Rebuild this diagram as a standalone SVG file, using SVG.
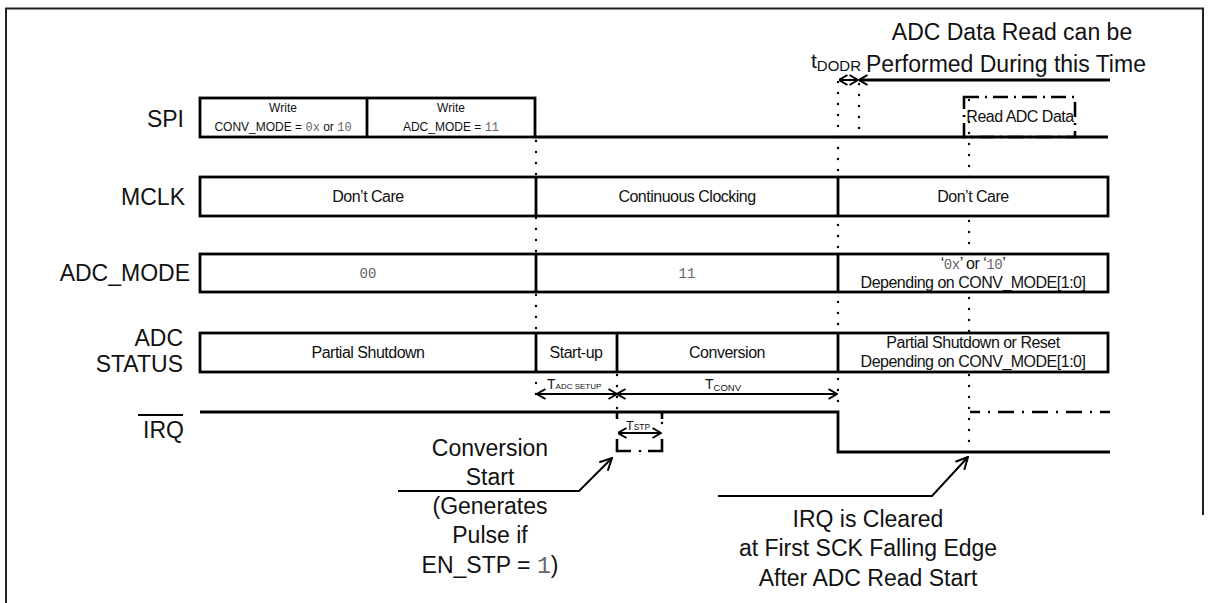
<svg xmlns="http://www.w3.org/2000/svg" width="1208" height="603" viewBox="0 0 1208 603">
<defs>
<style>
.lbl{font-family:"Liberation Sans",Arial,sans-serif;font-size:23px;fill:#111}
.ann{font-family:"Liberation Sans",Arial,sans-serif;font-size:23px;fill:#111;text-anchor:middle}
.cell{font-family:"Liberation Sans",Arial,sans-serif;font-size:16px;letter-spacing:-0.5px;fill:#111;text-anchor:middle}
.sm{font-family:"Liberation Sans",Arial,sans-serif;font-size:12px;fill:#111;text-anchor:middle}
.mono{font-family:"Liberation Mono","Courier New",monospace;fill:#666}
.box{fill:#fff;stroke:#000;stroke-width:2.8}
.ln{fill:none;stroke:#000;stroke-width:2.8}
.dot{fill:none;stroke:#000;stroke-width:2.4;stroke-linecap:round;stroke-dasharray:0 11}
.arr{fill:none;stroke:#000;stroke-width:2;marker-start:url(#ah);marker-end:url(#ah)}
.tsub{font-family:"Liberation Sans",Arial,sans-serif;fill:#111}
</style>
<marker id="ah" viewBox="0 0 10 12" refX="9.5" refY="6" markerWidth="10" markerHeight="12" markerUnits="userSpaceOnUse" orient="auto-start-reverse"><path d="M1,1 L9.5,6 L1,11" fill="none" stroke="#000" stroke-width="2"/></marker>
<marker id="ah2" viewBox="0 0 14 14" refX="13" refY="7" markerWidth="14" markerHeight="14" markerUnits="userSpaceOnUse" orient="auto"><path d="M1,1 L13,7 L1,13" fill="none" stroke="#000" stroke-width="2"/></marker>
</defs>
<rect width="1208" height="603" fill="#fff"/>
<path d="M6,603 V8.5 H1203 V515" fill="none" stroke="#222" stroke-width="2"/>

<g id="labels">
<text class="lbl" x="184" y="127" text-anchor="end">SPI</text>
<text class="lbl" x="185" y="205" text-anchor="end">MCLK</text>
<text class="lbl" x="190" y="281" text-anchor="end">ADC_MODE</text>
<text class="lbl" x="183" y="346" text-anchor="end">ADC</text>
<text class="lbl" x="183" y="372" text-anchor="end">STATUS</text>
<text class="lbl" x="184" y="438" text-anchor="end">IRQ</text>
<line x1="138" y1="415" x2="183" y2="415" stroke="#000" stroke-width="2"/>
</g>

<g id="connectors">
<line class="dot" x1="536" y1="141" x2="536" y2="402"/>
<line class="dot" x1="617" y1="375" x2="617" y2="412"/>
<line class="dot" x1="838" y1="82" x2="838" y2="412"/>
<line class="dot" x1="859" y1="84" x2="859" y2="132"/>
<line class="dot" x1="969" y1="100" x2="969" y2="452"/>
<line class="dot" x1="662" y1="412" x2="662" y2="424"/>
</g>

<g id="spi">
<rect class="box" x="200" y="98" width="335" height="39"/>
<line class="ln" x1="367" y1="98" x2="367" y2="137"/>
<line class="ln" x1="535" y1="137" x2="1108" y2="137"/>
<text class="sm" x="283" y="112">Write</text>
<text class="sm" x="283" y="131">CONV_MODE = <tspan class="mono" font-size="12">0x</tspan> or <tspan class="mono" font-size="12">10</tspan></text>
<text class="sm" x="451" y="112">Write</text>
<text class="sm" x="451" y="131">ADC_MODE = <tspan class="mono" font-size="12">11</tspan></text>
</g>

<g id="read-adc">
<rect x="964" y="97" width="111" height="40" fill="none" stroke="#000" stroke-width="2.6" stroke-dasharray="15 6 2 6"/>
<text class="cell" x="1020" y="122" font-size="14.5">Read ADC Data</text>
</g>

<g id="mclk">
<rect class="box" x="200" y="177" width="908" height="39"/>
<line class="ln" x1="536" y1="177" x2="536" y2="216"/>
<line class="ln" x1="838" y1="177" x2="838" y2="216"/>
<text class="cell" x="368" y="202">Don’t Care</text>
<text class="cell" x="687" y="202">Continuous Clocking</text>
<text class="cell" x="973" y="202">Don’t Care</text>
</g>

<g id="adc-mode">
<rect class="box" x="200" y="254" width="908" height="38"/>
<line class="ln" x1="536" y1="254" x2="536" y2="292"/>
<line class="ln" x1="838" y1="254" x2="838" y2="292"/>
<text class="mono" x="368" y="278" font-size="14" text-anchor="middle">00</text>
<text class="mono" x="687" y="278" font-size="14" text-anchor="middle">11</text>
<text class="cell" x="973" y="269">‘<tspan class="mono" font-size="14">0x</tspan>’ or ‘<tspan class="mono" font-size="14">10</tspan>’</text>
<text class="cell" x="973" y="288">Depending on CONV_MODE[1:0]</text>
</g>

<g id="adc-status">
<rect class="box" x="200" y="333" width="908" height="39"/>
<line class="ln" x1="536" y1="333" x2="536" y2="372"/>
<line class="ln" x1="617" y1="333" x2="617" y2="372"/>
<line class="ln" x1="838" y1="333" x2="838" y2="372"/>
<text class="cell" x="368" y="358">Partial Shutdown</text>
<text class="cell" x="576" y="358">Start-up</text>
<text class="cell" x="727" y="358">Conversion</text>
<text class="cell" x="973" y="348">Partial Shutdown or Reset</text>
<text class="cell" x="973" y="367">Depending on CONV_MODE[1:0]</text>
</g>

<g id="timing">
<line class="arr" x1="537" y1="394" x2="617" y2="394"/>
<line class="arr" x1="617" y1="394" x2="837" y2="394"/>
<text class="tsub" x="547" y="389" font-size="14">T<tspan font-size="8">ADC SETUP</tspan></text>
<text class="tsub" x="705" y="389" font-size="14">T<tspan font-size="9.5" dy="2">CONV</tspan></text>
<line class="arr" x1="618" y1="433" x2="661" y2="433"/>
<text class="tsub" x="626" y="430" font-size="12.5">T<tspan font-size="8.5">STP</tspan></text>
</g>

<g id="irq">
<path class="ln" d="M200,412 H838 V452 H1110" stroke-width="2.8"/>
<line x1="617" y1="412" x2="617" y2="419" stroke="#000" stroke-width="2.6"/>
<line x1="662" y1="412" x2="662" y2="419" stroke="#000" stroke-width="2.6"/>
<path d="M617,439 V451 H631" fill="none" stroke="#000" stroke-width="2.6"/>
<path d="M648,451 H662 V439" fill="none" stroke="#000" stroke-width="2.6"/>
<circle cx="640" cy="451" r="1.3" fill="#000"/>
<path d="M970,452 V412" fill="none" stroke="#000" stroke-width="2.6" stroke-dasharray="0 40 2 4 2 4 2 4 14 100"/>
<path d="M970,412 H1110" fill="none" stroke="#000" stroke-width="2.6" stroke-dasharray="10 8 2 8 16 8 2 8 16 8 2 8 16 8 2 8 16 8"/>
</g>

<g id="top-annotation">
<text class="ann" x="1012" y="40">ADC Data Read can be</text>
<text class="lbl" x="866" y="72">Performed During this Time</text>
<text class="tsub" x="811" y="68" font-size="21">t<tspan font-size="15" dy="3">DODR</tspan></text>
<line class="arr" x1="839" y1="80" x2="858" y2="80"/>
<line x1="859" y1="80" x2="1110" y2="80" stroke="#000" stroke-width="3" marker-start="url(#ah)"/>
</g>

<g id="conv-start-note">
<path d="M398,491 H579 L612,458" fill="none" stroke="#000" stroke-width="2" marker-end="url(#ah2)"/>
<text class="ann" x="490" y="456">Conversion</text>
<text class="ann" x="490" y="485">Start</text>
<text class="ann" x="490" y="514">(Generates</text>
<text class="ann" x="490" y="543">Pulse if</text>
<text class="ann" x="490" y="573">EN_STP = <tspan class="mono">1</tspan>)</text>
</g>

<g id="irq-clear-note">
<path d="M718,496 H932 L968,457" fill="none" stroke="#000" stroke-width="2" marker-end="url(#ah2)"/>
<text class="ann" x="868" y="527">IRQ is Cleared</text>
<text class="ann" x="868" y="556">at First SCK Falling Edge</text>
<text class="ann" x="868" y="586">After ADC Read Start</text>
</g>
</svg>
